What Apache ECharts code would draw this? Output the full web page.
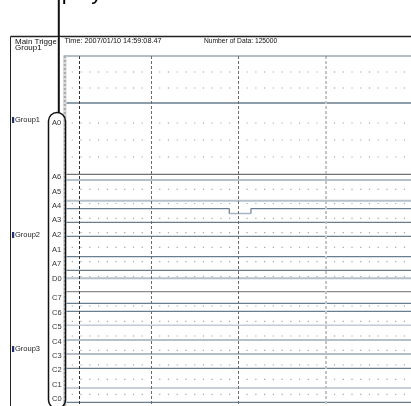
<!DOCTYPE html>
<html><head><meta charset="utf-8">
<script src="https://cdn.jsdelivr.net/npm/echarts@6/dist/echarts.min.js"></script>
<style>html,body{margin:0;padding:0;background:#fff}#c{width:411px;height:406px}</style>
</head><body><div id="c"></div>
<script>
// ---- data ----
const headerTexts = ['Main Trigger', 'Group1', 'Time: 2007/01/10 14:59:08.47', 'Number of Data: 125000'];
const groups = ['Group1', 'Group2', 'Group3'];
const channels = ['A0','A6','A5','A4','A3','A2','A1','A7','D0','C7','C6','C5','C4','C3','C2','C1','C0'];
// x axis: time in divisions
const xMajor = [1, 2, 3];
const cursorX = [0.176];
// y axis: vertical level (rows from top of waveform area)
const traceNames  = ['Group1','A6','A6b','A5','A4','A3','A2','A1','A7','D0','C7','C6','C6b','C5','C4','C3','C2','C1','C0'];
const traceLevels = [47, 118.3, 124, 144.7, 152.7, 166.3, 180.3, 200.7, 214.3, 222.3, 235.7, 247.3, 255.3, 269.3, 284, 298, 312.3, 332, 346.3];
const a4PulseX = [1.896, 2.144];
const a4PulseLow = 157.5;
const dotRows = [16, 32, 67, 84, 101, 133.3, 147.5, 162.3, 176.7, 191.3, 205.7, 220.7, 250, 265.3, 280, 294.3, 309, 323.3, 338.3];

// ---- layout / styles ----
const X_MAX = 3.975, Y_MAX = 350;
const GL = 63.6, GT = 56;
const styleOf = {
  Group1:{c:'#677c8e',w:1.4}, A6:{c:'#4d4f52',w:1}, A6b:{c:'#b4c0cb',w:2}, A5:{c:'#b4c0cb',w:2},
  A4:{c:'#687d8f',w:1.2}, A3:{c:'#687d8f',w:1.2}, A2:{c:'#687d8f',w:1.2}, A1:{c:'#687d8f',w:1.2},
  A7:{c:'#687d8f',w:1.2}, D0:{c:'#b4c0cb',w:2}, C7:{c:'#8a8c8f',w:1.2}, C6:{c:'#687d8f',w:1.2},
  C6b:{c:'#687d8f',w:1.2}, C5:{c:'#c3ccd4',w:1.5}, C4:{c:'#b4c0cb',w:2}, C3:{c:'#687d8f',w:1.2},
  C2:{c:'#687d8f',w:1.2}, C1:{c:'#b4c0cb',w:1.6}, C0:{c:'#687d8f',w:1.2}
};
const chLabelY = [123,177,192,206,220,235,250,264,279,298,313,327,342,356,370,385,399];
const groupLabelY = [120,235,349];
const FONT = 'Liberation Sans, Arial, sans-serif';

const series = [];
// dotted minor grid (decoration)
const dots = [];
dotRows.forEach(r => { for (let k = 1; k < 40; k++) { if (k % 10) dots.push([k / 10, r]); } });
series.push({type:'scatter', data:dots, symbol:'rect', symbolSize:[1.2,1.2], itemStyle:{color:'#8e8e8e'}, silent:true, z:1});

traceNames.forEach((n, i) => {
  const lv = traceLevels[i];
  let data = [[0, lv], [X_MAX, lv]];
  if (n === 'A4') data = [[0, lv],[a4PulseX[0], lv],[a4PulseX[0], a4PulseLow],[a4PulseX[1], a4PulseLow],[a4PulseX[1], lv],[X_MAX, lv]];
  series.push({type:'line', name:n, data, showSymbol:false, symbol:'none', silent:true, z:3,
    lineStyle:{color:styleOf[n].c, width:styleOf[n].w}});
});
series.push({type:'line', data:[[a4PulseX[0], a4PulseLow],[a4PulseX[1], a4PulseLow]], symbol:'none', silent:true, z:4,
  lineStyle:{color:'#a8b5c0', width:1.3}});
// vertical division lines + cursor
series.push({type:'line', data:[], symbol:'none', silent:true, z:5,
  markLine:{symbol:'none', silent:true, label:{show:false}, animation:false,
    data: xMajor.map((v, i) => ({xAxis:v, lineStyle:{color: i === 2 ? '#c4c4c4' : '#6a6a6a', width: i === 2 ? 2 : 1, type:[3,2]}}))
      .concat(cursorX.map(v => ({xAxis:v, lineStyle:{color:'#333', width:1, type:[3,2]}})))}});

const g = [];
// "Display" caption cut off at top
g.push({type:'text', left:30, top:-18, z:20, style:{text:'Display', font:'22px '+FONT, fill:'#000'}});
// frame
g.push({type:'line', z:20, shape:{x1:10.5,y1:36.5,x2:411,y2:36.5}, style:{stroke:'#222', lineWidth:1.3}});
g.push({type:'line', z:20, shape:{x1:10.5,y1:36.5,x2:10.5,y2:406}, style:{stroke:'#222', lineWidth:1}});
// header texts
g.push({type:'text', z:20, left:15, top:37.5, style:{text:headerTexts[0], font:'8px '+FONT, fill:'#111'}});
g.push({type:'text', z:20, left:15, top:43.5, style:{text:headerTexts[1], font:'8px '+FONT, fill:'#111'}});
g.push({type:'rect', z:21, shape:{x:56.5,y:37.3,width:5,height:12}, style:{fill:'#fff'}});
g.push({type:'text', z:20, left:64.5, top:37.5, style:{text:headerTexts[2], font:'7.3px '+FONT, fill:'#111'}});
g.push({type:'text', z:20, left:204, top:37.5, style:{text:headerTexts[3], font:'6.7px '+FONT, fill:'#111'}});
// plot top border
g.push({type:'line', z:20, shape:{x1:GL,y1:GT,x2:411,y2:GT}, style:{stroke:'#677c8e', lineWidth:1}});
// gray ruler strip
g.push({type:'rect', z:20, shape:{x:GL-0.5,y:GT,width:3.5,height:350}, style:{fill:'#dadada'}});
g.push({type:'line', z:20, shape:{x1:GL+1.2,y1:GT,x2:GL+1.2,y2:406}, style:{stroke:'#a8a8a8', lineWidth:2, lineDash:[2,2]}});
// pointer line and pill
g.push({type:'line', z:22, shape:{x1:58.8,y1:0,x2:58.8,y2:113}, style:{stroke:'#111', lineWidth:2}});
g.push({type:'rect', z:22, shape:{x:48.5,y:112.5,width:17,height:296,r:8.5}, style:{fill:'none', stroke:'#111', lineWidth:1.5}});
// channel labels
channels.forEach((c, i) => g.push({type:'text', z:23, left:52, top:chLabelY[i]-4.5, style:{text:c, font:'7.5px '+FONT, fill:'#333'}}));
// group labels
groups.forEach((gname, i) => {
  g.push({type:'rect', z:23, shape:{x:12,y:groupLabelY[i]-3,width:2.2,height:6}, style:{fill:'#1e3570'}});
  g.push({type:'text', z:23, left:15, top:groupLabelY[i]-4.5, style:{text:gname, font:'7.5px '+FONT, fill:'#222'}});
});

const chart = echarts.init(document.getElementById('c'), null, {renderer:'canvas'});
chart.setOption({
  animation:false,
  backgroundColor:'#fff',
  grid:{left:GL, top:GT, width:411-GL, height:Y_MAX, containLabel:false},
  xAxis:{type:'value', min:0, max:X_MAX, show:false},
  yAxis:{type:'value', min:0, max:Y_MAX, inverse:true, show:false},
  series,
  graphic:g
});
</script></body></html>
